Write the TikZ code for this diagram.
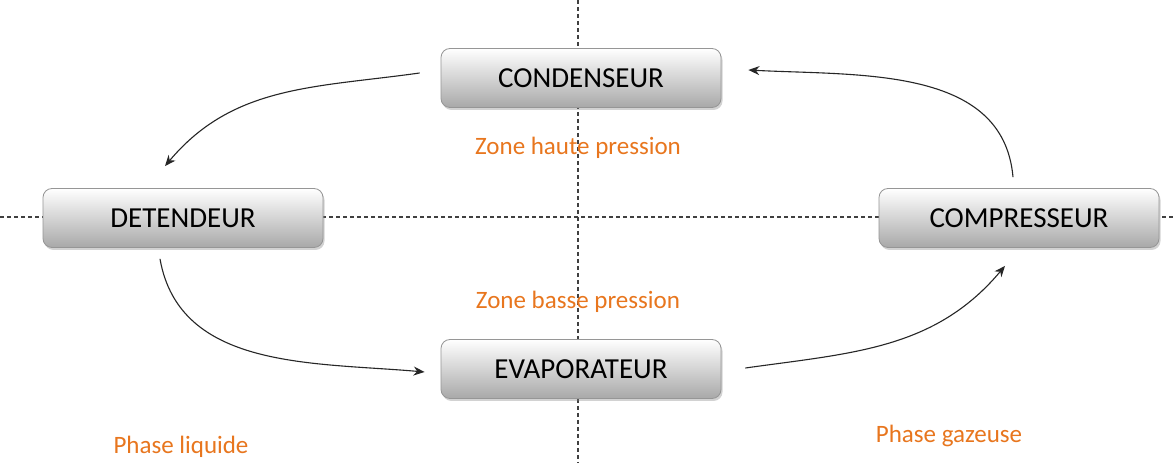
\documentclass[tikz,border=0pt]{standalone}
\usepackage{fontspec}
\setmainfont{Carlito}
\usetikzlibrary{shadows,calc,arrows.meta}
\definecolor{orangetxt}{RGB}{232,118,30}
\definecolor{boxedge}{RGB}{150,150,150}
\begin{document}
\begin{tikzpicture}[x=1pt,y=1pt,
  unit/.style={draw=boxedge, line width=0.8pt, rounded corners=9pt, minimum width=280pt, minimum height=59pt,
    top color=white, bottom color=black!34, font=\fontsize{29}{31}\selectfont,
    drop shadow={shadow xshift=1.5pt, shadow yshift=-2.5pt, opacity=0.35}},
  axis/.style={dash pattern=on 4pt off 3pt, line width=1.1pt, black!75},
  zone/.style={text=orangetxt, font=\fontsize{25}{27}\selectfont},
  flow/.style={-{Stealth[length=11pt,width=9pt]}, line width=1.1pt, black!85}]
\useasboundingbox (0,0) rectangle (1176,463);
\fill[white] (0,0) rectangle (1176,463);
\coordinate (vtop) at (578,463);
\coordinate (vbot) at (578,0);
\coordinate (hl) at (0,246);
\coordinate (hr) at (1176,246);
\draw[axis] (vtop) -- (vbot);
\draw[axis] (hl) -- (hr);
\node[unit] (cond) at (581,385) {CONDENSEUR};
\node[unit] (det) at (183,245) {DETENDEUR};
\node[unit] (comp) at (1019,245) {COMPRESSEUR};
\node[unit] (evap) at (581,94) {EVAPORATEUR};
\node[zone] (haute) at (578,315) {Zone haute pression};
\node[zone] (basse) at (578,161) {Zone basse pression};
\node[zone] (liq) at (181,16) {Phase liquide};
\node[zone] (gaz) at (949,27) {Phase gazeuse};
\draw[flow] ($(cond.west)+(-21,5)$) to[out=188,in=50] ($(det.north)+(-18,22)$);
\draw[flow] ($(comp.north)+(-6,11)$) to[out=95,in=-3] ($(cond.east)+(27,8)$);
\draw[flow] ($(det.south)+(-23,-11)$) to[out=-80,in=175] ($(evap.west)+(-16,-3)$);
\draw[flow] ($(evap.east)+(24,1)$) to[out=8,in=230] ($(comp.south)+(-14,-18)$);
\end{tikzpicture}
\end{document}
